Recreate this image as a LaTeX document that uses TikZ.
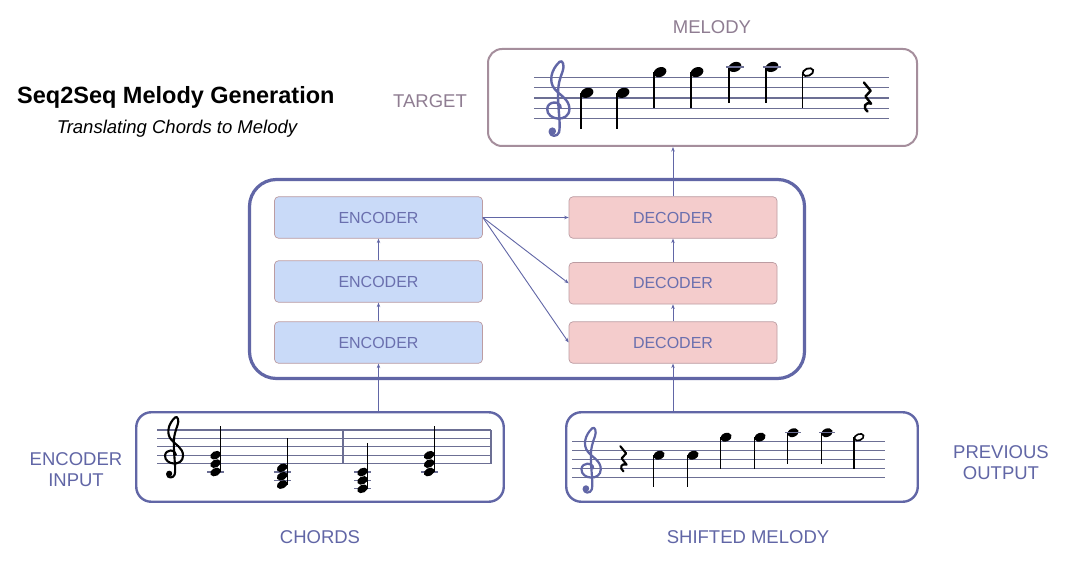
\documentclass[tikz,border=0pt]{standalone}
\usepackage{fontspec}
\setmainfont{Liberation Sans}
\usetikzlibrary{arrows.meta}
\definecolor{navy}{HTML}{6166A6}
\definecolor{boxtext}{HTML}{6A6FAE}
\definecolor{mauve}{HTML}{8F7D92}
\definecolor{encfill}{HTML}{C9DAF8}
\definecolor{decfill}{HTML}{F4CCCC}
\definecolor{edgepink}{HTML}{BC9CA2}
\definecolor{staffc}{HTML}{6C6F94}
\definecolor{mbord}{HTML}{A58E9C}

\newcommand\mytreble{%
 (0.35,1.05) .. controls (0.35,1.75) and (-0.9,1.75) .. (-0.95,0.95)
 .. controls (-1.0,-0.2) and (1.2,-0.4) .. (1.2,0.95)
 .. controls (1.2,1.9) and (0.2,2.3) .. (-0.25,2.9)
 .. controls (-0.8,3.6) and (-0.6,4.7) .. (0.25,5.5)
 .. controls (0.55,5.75) and (0.75,5.1) .. (0.55,4.6)
 .. controls (0.3,3.9) and (0.05,3.3) .. (0.1,2.0)
 .. controls (0.15,0.5) and (0.35,-0.6) .. (0.2,-1.3)
 .. controls (0.05,-1.8) and (-0.7,-1.75) .. (-0.7,-1.25)}
\newcommand\mytrebleball{(-0.45,-1.2) circle (0.36)}
\newcommand\myrest{%
 (-0.3,3.5) -- (0.35,2.7) -- (-0.15,2.15) -- (0.4,1.45)
 .. controls (-0.2,1.65) and (-0.45,1.1) .. (0.05,0.7)}

\tikzset{
  lbl/.style={font=\fontsize{18.5}{21}\selectfont, text=navy, align=center},
  mlbl/.style={font=\fontsize{18.5}{21}\selectfont, text=mauve},
  encbox/.style={draw=edgepink, line width=0.7pt, fill=encfill, rounded corners=4pt,
    minimum width=208pt, minimum height=41.5pt, inner sep=0pt,
    font=\fontsize{16}{18}\selectfont, text=boxtext},
  decbox/.style={encbox, fill=decfill},
  arr/.style={draw=navy, line width=0.9pt, -{Stealth[length=4.5pt,width=3.5pt]}},
  staffl/.style={draw=staffc, line width=1.3pt},
  clefline/.style={line width=2.4pt, line cap=round, line join=round},
  stemline/.style={line width=1.3pt, black},
  restline/.style={line width=2.4pt, line join=round, line cap=round, black},
}

\begin{document}
\begin{tikzpicture}[x=1pt, y=-1pt]
\path[use as bounding box, fill=white] (0,0) rectangle (1081,564);

% titles
\node[anchor=west, inner sep=0pt, font=\bfseries\fontsize{23.5}{26}\selectfont] (title) at (17,97) {Seq2Seq Melody Generation};
\node[font=\itshape\fontsize{18.5}{21}\selectfont] (subtitle) at (177,129) {Translating Chords to Melody};

% labels
\node[mlbl] (lmel) at (712,27) {MELODY};
\node[mlbl] (ltar) at (430,101) {TARGET};
\node[lbl] (lenc) at (76,470) {ENCODER\\INPUT};
\node[lbl] (lprev) at (1001,463) {PREVIOUS\\OUTPUT};
\node[lbl] (lchd) at (320,537) {CHORDS};
\node[lbl] (lshf) at (748,537) {SHIFTED MELODY};

% frames
\node[draw=mbord, line width=2pt, rounded corners=14pt, minimum width=429pt, minimum height=97pt] (melody) at (702.5,97.5) {};
\node[draw=navy, line width=3.2pt, rounded corners=27pt, minimum width=555pt, minimum height=199pt] (core) at (527,279) {};
\node[draw=navy, line width=2.4pt, rounded corners=15pt, minimum width=367.5pt, minimum height=89.5pt] (chords) at (320,457) {};
\node[draw=navy, line width=2.4pt, rounded corners=15pt, minimum width=351.5pt, minimum height=89.5pt] (shifted) at (742,457) {};

% encoder / decoder stacks
\node[encbox] (e1) at (378.5,217.5) {ENCODER};
\node[encbox] (e2) at (378.5,281.5) {ENCODER};
\node[encbox] (e3) at (378.5,342.5) {ENCODER};
\node[decbox] (d1) at (673,217.5) {DECODER};
\node[decbox] (d2) at (673,283.3) {DECODER};
\node[decbox] (d3) at (673,342.5) {DECODER};

% connectors
\draw[arr] (chords.north -| e3.south) -- (e3.south);
\draw[arr] (e3.north) -- (e2.south);
\draw[arr] (e2.north) -- (e1.south);
\draw[arr] (shifted.north -| d3.south) -- (d3.south);
\draw[arr] (d3.north) -- (d2.south);
\draw[arr] (d2.north) -- (d1.south);
\draw[arr] (d1.north) -- (d1.north |- melody.south);
\draw[arr] (e1.east) -- (d1.west);
\draw[arr] (e1.east) -- (d2.west);
\draw[arr] (e1.east) -- (d3.west);

% ---------- target melody staff ----------
\begin{scope}[shift={(0,118.7)}, y=10.35pt]
  \foreach \i in {0,...,4} \draw[staffl] (534,\i) -- (889,\i);
  \begin{scope}[shift={(557,0)}, x=10.35pt]
    \draw[clefline, navy] \mytreble;
    \fill[navy] \mytrebleball;
  \end{scope}
  \foreach \hx/\p in {587/5, 623/5, 660/9, 697/9, 735/10, 772/10} {
    \fill[black, rotate around={22:(\hx,\p/2)}] (\hx,\p/2) ellipse [x radius=6.6pt, y radius=4.8pt];
    \draw[stemline] (\hx-5.9,\p/2) -- (\hx-5.9,\p/2-3.5);
  }
  \foreach \hx in {735,772} \draw[staffl] (\hx-9,5) -- (\hx+9,5);
  \draw[black, line width=1.8pt, rotate around={22:(808,4.5)}] (808,4.5) ellipse [x radius=5.5pt, y radius=3.6pt];
  \draw[stemline] (802.2,4.5) -- (802.2,1);
  \begin{scope}[shift={(867,0)}, x=10.35pt]
    \draw[restline] \myrest;
  \end{scope}
\end{scope}

% ---------- shifted melody staff ----------
\begin{scope}[shift={(0,477.7)}, y=9pt]
  \foreach \i in {0,...,4} \draw[staffl] (572,\i) -- (885,\i);
  \begin{scope}[shift={(590,0)}, x=9pt]
    \draw[clefline, navy, line width=2.2pt] \mytreble;
    \fill[navy] \mytrebleball;
  \end{scope}
  \foreach \hx/\p in {659/5, 693/5, 726/9, 760/9, 793/10, 827/10} {
    \fill[black, rotate around={22:(\hx,\p/2)}] (\hx,\p/2) ellipse [x radius=5.8pt, y radius=4.2pt];
    \draw[stemline] (\hx-5.2,\p/2) -- (\hx-5.2,\p/2-3.5);
  }
  \foreach \hx in {793,827} \draw[staffl] (\hx-8,5) -- (\hx+8,5);
  \draw[black, line width=1.6pt, rotate around={22:(859,4.5)}] (859,4.5) ellipse [x radius=4.8pt, y radius=3.1pt];
  \draw[stemline] (854,4.5) -- (854,1);
  \begin{scope}[shift={(623,0)}, x=9pt]
    \draw[restline, line width=2.1pt] \myrest;
  \end{scope}
\end{scope}

% ---------- chords staff ----------
\begin{scope}[shift={(0,463.6)}, y=8.4pt]
  \foreach \i in {0,...,4} \draw[staffl] (157,\i) -- (491,\i);
  \draw[staffc, line width=2.2pt] (343,0) -- (343,4);
  \draw[staffl] (491,0) -- (491,4);
  \begin{scope}[shift={(173,0)}, x=8.4pt]
    \draw[clefline, black, line width=2.1pt] \mytreble;
    \fill[black] \mytrebleball;
  \end{scope}
  % ledger lines
  \foreach \hx/\ly in {215.7/-1, 282.3/-1, 282.3/-2, 362.7/-1, 362.7/-2, 362.7/-3, 429.3/-1}
    \draw[staffl] (\hx-8.5,\ly) -- (\hx+8.5,\ly);
  % chord heads
  \foreach \sx/\lo/\hi in {220.7/-2/2, 287.3/-5/-1, 367.7/-6/-2, 434.3/-2/2} {
    \foreach \p in {\lo,...,\hi} {
      \pgfmathsetmacro{\odd}{mod(\p-\lo,2)}
      \ifdim\odd pt=0pt
        \fill[black, rotate around={28:(\sx-5.2,\p/2)}] (\sx-5.2,\p/2) ellipse [x radius=5.6pt, y radius=3.9pt];
      \fi
    }
    \draw[stemline] (\sx,\lo/2) -- (\sx,\hi/2+3.5);
  }
\end{scope}
\end{tikzpicture}
\end{document}
